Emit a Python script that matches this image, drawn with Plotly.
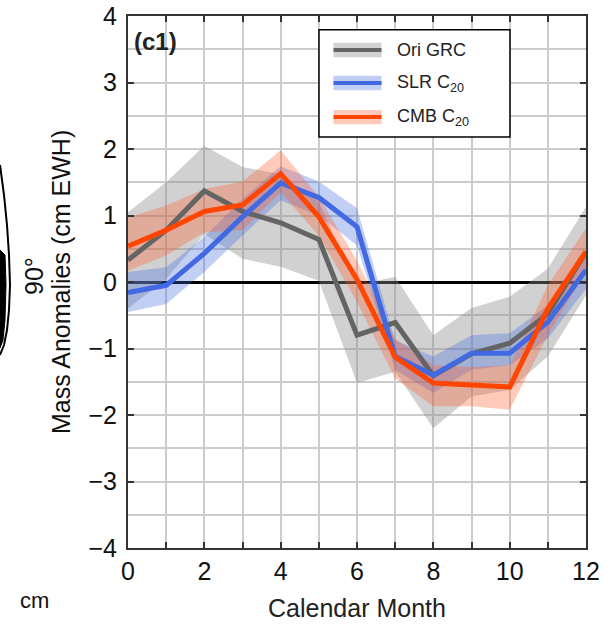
import plotly.graph_objects as go

months = list(range(13))

ori_mean = [0.33, 0.78, 1.37, 1.06, 0.89, 0.64, -0.80, -0.61, -1.41, -1.08, -0.92, -0.48, 0.45]
ori_upper = [1.05, 1.50, 2.05, 1.73, 1.62, 1.20, -0.05, 0.08, -0.80, -0.39, -0.22, 0.20, 1.13]
ori_lower = [-0.40, 0.05, 0.72, 0.35, 0.23, 0.02, -1.52, -1.35, -2.20, -1.72, -1.62, -1.12, -0.20]

slr_mean = [-0.16, -0.05, 0.43, 0.98, 1.49, 1.27, 0.83, -1.12, -1.40, -1.07, -1.07, -0.60, 0.18]
slr_upper = [0.15, 0.22, 0.68, 1.25, 1.74, 1.51, 1.11, -0.88, -1.12, -0.80, -0.77, -0.35, 0.45]
slr_lower = [-0.45, -0.33, 0.15, 0.70, 1.23, 1.00, 0.55, -1.32, -1.67, -1.32, -1.25, -0.85, -0.10]

cmb_mean = [0.54, 0.78, 1.06, 1.16, 1.63, 0.98, 0.04, -1.13, -1.52, -1.55, -1.58, -0.40, 0.46]
cmb_upper = [0.97, 1.15, 1.40, 1.51, 1.98, 1.28, 0.32, -0.85, -1.25, -1.28, -1.25, -0.05, 0.81]
cmb_lower = [0.17, 0.40, 0.75, 0.78, 1.35, 0.70, -0.30, -1.45, -1.87, -1.87, -1.92, -0.80, 0.15]

series_names = ["Ori GRC", "SLR C<sub>20</sub>", "CMB C<sub>20</sub>"]
line_colors = ["rgb(100,100,100)", "rgb(65,105,225)", "rgb(255,69,0)"]
band_colors = ["rgba(140,140,140,0.40)", "rgba(65,105,225,0.32)", "rgba(255,90,40,0.32)"]

means = [ori_mean, slr_mean, cmb_mean]
uppers = [ori_upper, slr_upper, cmb_upper]
lowers = [ori_lower, slr_lower, cmb_lower]

fig = go.Figure()

for up, lo, bc in zip(uppers, lowers, band_colors):
    fig.add_trace(go.Scatter(
        x=months + months[::-1], y=up + lo[::-1],
        fill="toself", fillcolor=bc, line=dict(width=0),
        mode="lines", hoverinfo="skip", showlegend=False))

for m, lc, nm in zip(means, line_colors, series_names):
    fig.add_trace(go.Scatter(
        x=months, y=m, mode="lines", name=nm,
        line=dict(color=lc, width=5), showlegend=False))

FONT = "Liberation Sans, Arial, sans-serif"
axis_color = "#333333"
grid_color = "#cccccc"

fig.update_xaxes(
    range=[0, 12], tick0=0, dtick=2, showgrid=True, gridcolor=grid_color, gridwidth=1.5,
    ticks="inside", ticklen=6, tickwidth=1.5, tickcolor=axis_color,
    minor=dict(dtick=1, showgrid=True, gridcolor=grid_color, gridwidth=1.5,
               ticks="inside", ticklen=6, tickwidth=1.5, tickcolor=axis_color),
    showline=True, linecolor=axis_color, linewidth=2, mirror="allticks",
    zeroline=False, tickfont=dict(family=FONT, size=25, color="#111111"),
    automargin=False,
)
fig.update_yaxes(
    range=[-4, 4], tick0=0, dtick=1, showgrid=True, gridcolor=grid_color, gridwidth=1.5,
    ticks="inside", ticklen=6, tickwidth=1.5, tickcolor=axis_color,
    minor=dict(dtick=0.5, showgrid=True, gridcolor=grid_color, gridwidth=1.5),
    showline=True, linecolor=axis_color, linewidth=2, mirror="allticks",
    zeroline=True, zerolinecolor="black", zerolinewidth=2.5,
    tickfont=dict(family=FONT, size=25, color="#111111"), ticklabelstandoff=4,
    automargin=False,
)

shapes = []
annotations = []

# legend box
x0, x1 = 0.417, 0.834
y0, y1 = 0.7726, 0.974
shapes.append(dict(type="rect", xref="paper", yref="paper", x0=x0, x1=x1, y0=y0, y1=y1,
                   line=dict(color="black", width=1.5), fillcolor="white", layer="above"))
entry_y = [0.936, 0.874, 0.810]
for yy, lc, bc, nm in zip(entry_y, line_colors, band_colors, series_names):
    shapes.append(dict(type="rect", xref="paper", yref="paper", x0=0.4487, x1=0.5535,
                       y0=yy - 0.0135, y1=yy + 0.0135, line=dict(width=0), fillcolor=bc, layer="above"))
    shapes.append(dict(type="line", xref="paper", yref="paper", x0=0.4487, x1=0.5535,
                       y0=yy, y1=yy, line=dict(color=lc, width=4), layer="above"))
    annotations.append(dict(xref="paper", yref="paper", x=0.582, y=yy, text=nm, showarrow=False,
                            xanchor="left", yanchor="middle",
                            font=dict(family=FONT, size=18, color="#222222")))

annotations.append(dict(xref="paper", yref="paper", x=0.009, y=0.952, text="<b>(c1)</b>",
                        showarrow=False, xanchor="left", yanchor="middle",
                        font=dict(family=FONT, size=24, color="#222222")))
annotations.append(dict(xref="paper", yref="paper", x=(34 - 128) / 458, y=(548 - 276) / 532,
                        text="90°", textangle=-90, showarrow=False,
                        xanchor="center", yanchor="middle",
                        font=dict(family=FONT, size=25, color="#111111")))
annotations.append(dict(xref="paper", yref="paper", x=(61 - 128) / 458, y=0.5,
                        text="Mass Anomalies (cm EWH)", textangle=-90, showarrow=False,
                        xanchor="center", yanchor="middle",
                        font=dict(family=FONT, size=25, color="#111111")))
annotations.append(dict(xref="paper", yref="paper", x=0.5, y=(548 - 608) / 532,
                        text="Calendar Month", showarrow=False,
                        xanchor="center", yanchor="middle",
                        font=dict(family=FONT, size=25, color="#222222")))
annotations.append(dict(xref="paper", yref="paper", x=-0.205, y=-0.098, text="cm",
                        showarrow=False, xanchor="center", yanchor="middle",
                        font=dict(family=FONT, size=22, color="#111111")))

# fragment of neighbouring panel (black arc at the far left edge)
def px(xp):
    return (xp - 128) / 458

def py(yp):
    return (548 - yp) / 532

arc_pts = [(0, 165), (4, 195), (7, 225), (9, 255), (10, 285), (9, 310), (7, 330), (4, 345), (0, 355)]
arc_path = "M " + " L ".join(f"{px(a)} {py(b)}" for a, b in arc_pts)
shapes.append(dict(type="path", xref="paper", yref="paper", path=arc_path,
                   line=dict(color="black", width=2)))
fill_pts = [(0, 250), (5, 255), (6, 285), (5, 320), (3, 340), (0, 348)]
fill_path = "M " + " L ".join(f"{px(a)} {py(b)}" for a, b in fill_pts) + " Z"
shapes.append(dict(type="path", xref="paper", yref="paper", path=fill_path,
                   line=dict(color="black", width=1), fillcolor="black"))

fig.update_layout(
    width=614, height=625,
    margin=dict(l=128, r=28, t=16, b=77),
    plot_bgcolor="white", paper_bgcolor="white",
    shapes=shapes, annotations=annotations,
    showlegend=False,
)

fig.write_html("out.html")
